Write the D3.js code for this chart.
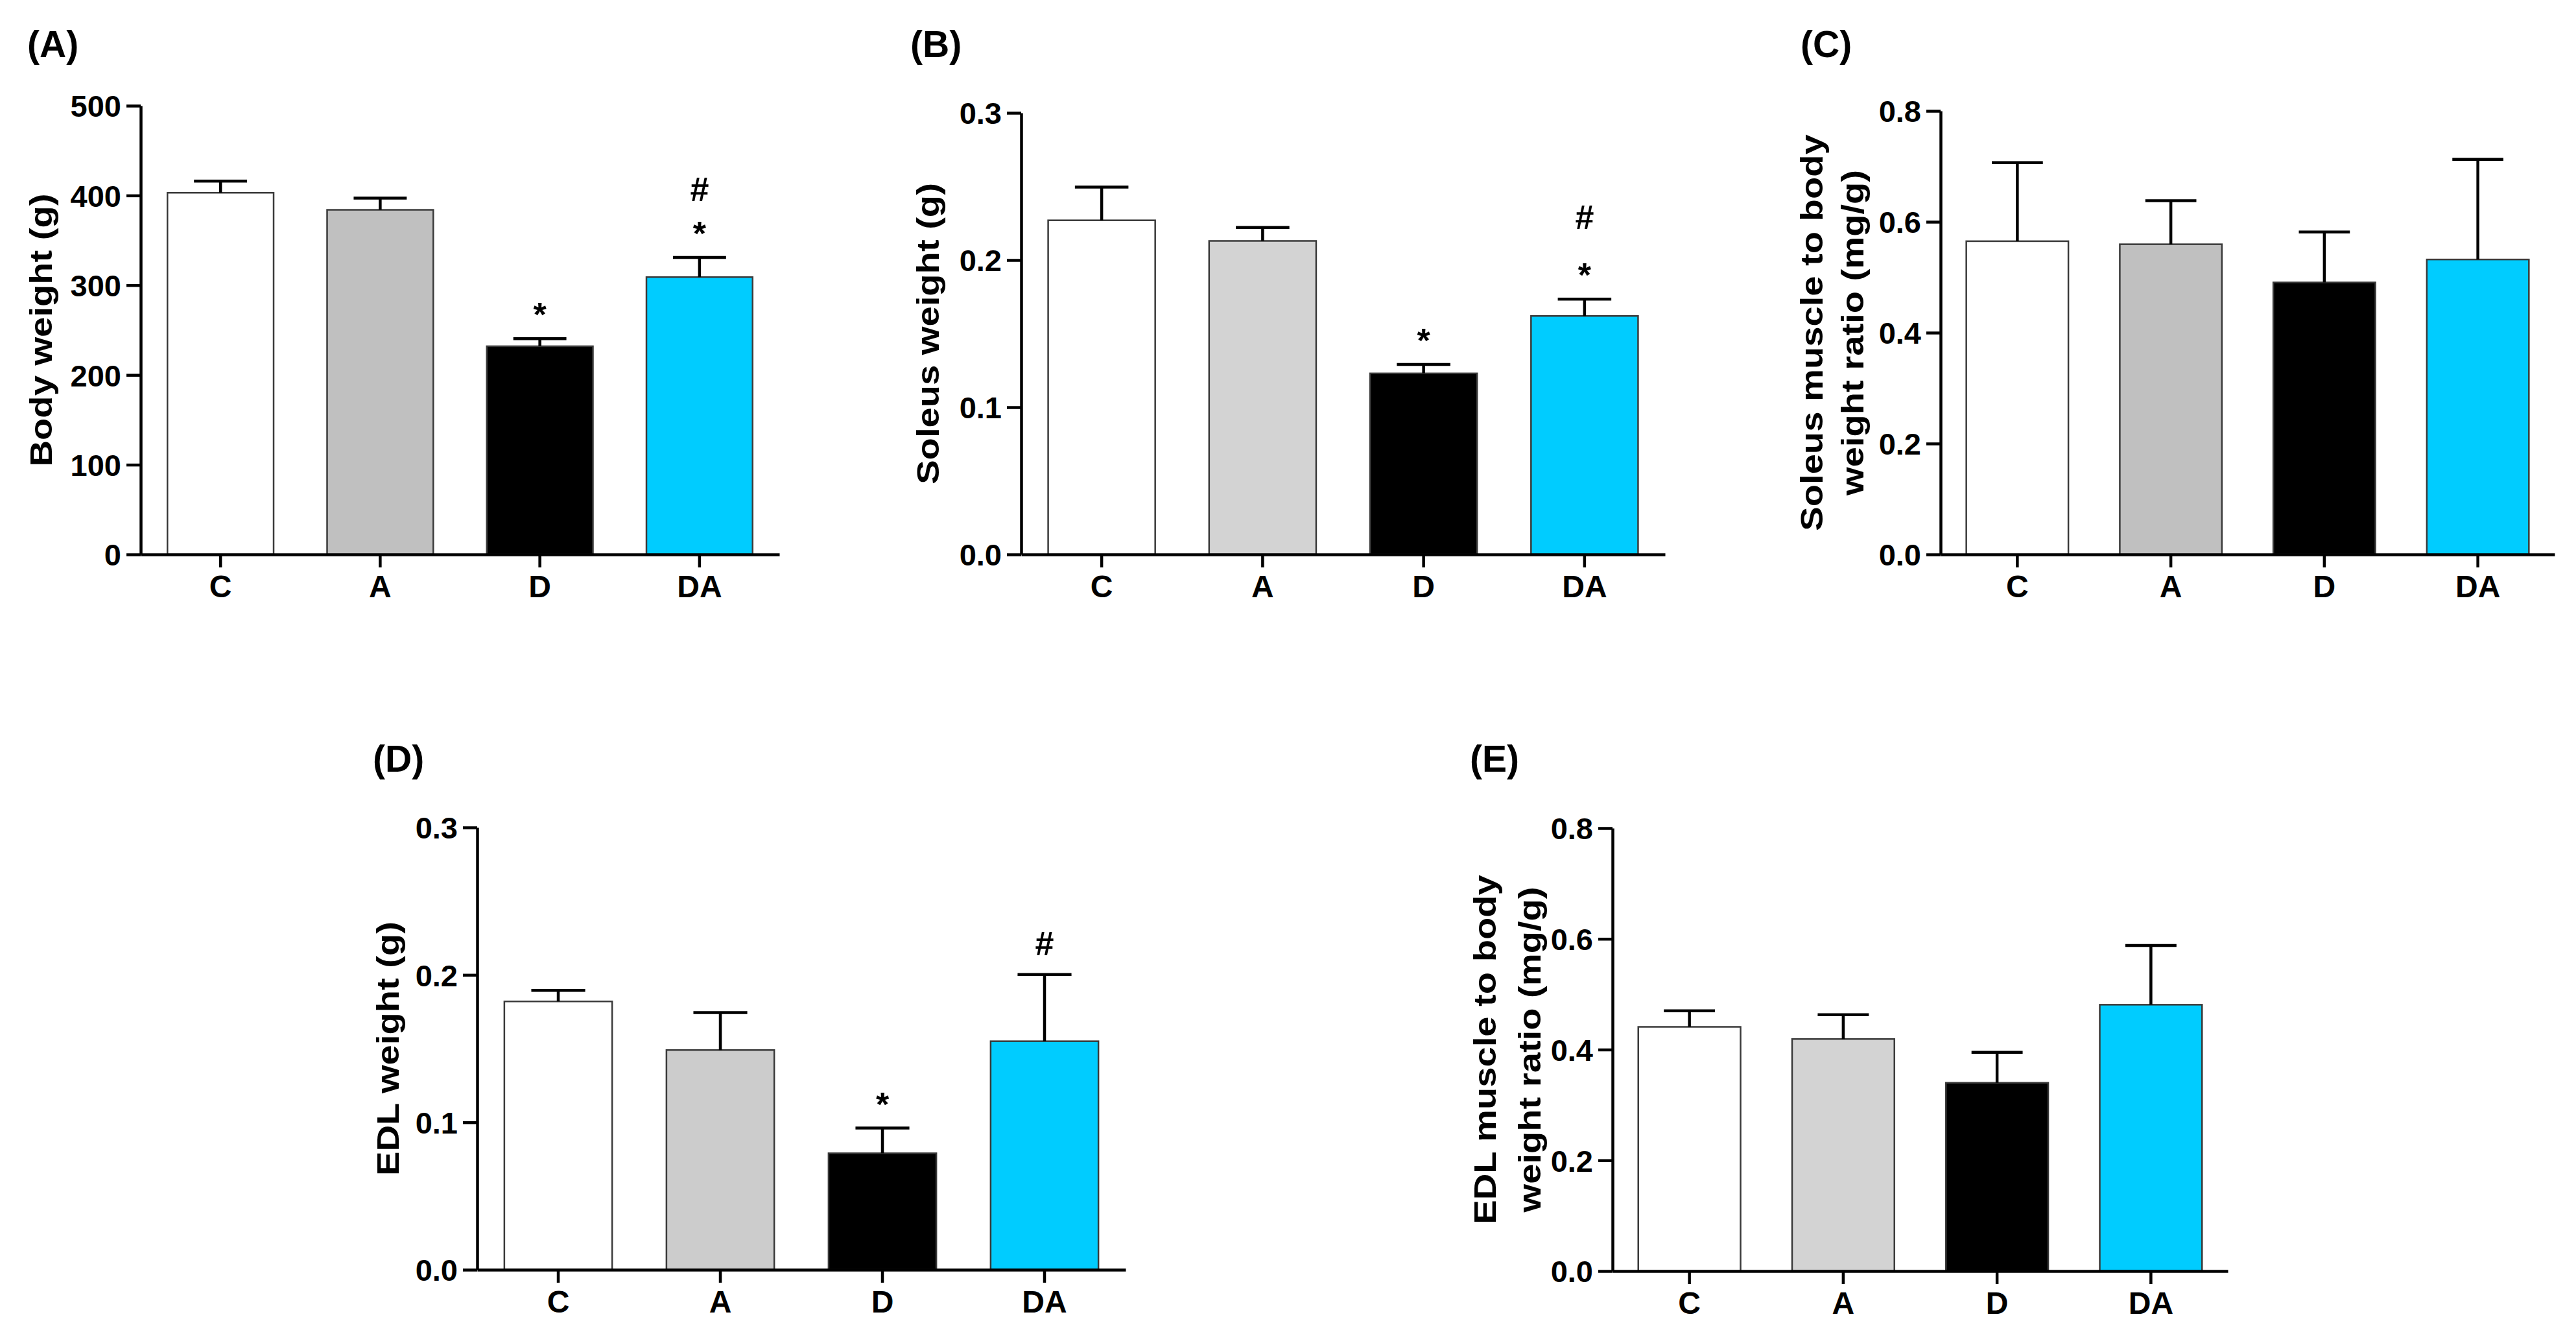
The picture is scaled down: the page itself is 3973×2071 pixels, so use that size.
<!DOCTYPE html>
<html>
<head>
<meta charset="utf-8">
<script src="https://cdn.jsdelivr.net/npm/d3@7"></script>
<style>
  body { margin: 0; background: #fff; }
  text { font-family: "Liberation Sans", Arial, sans-serif; font-weight: bold; fill: #000; }
</style>
</head>
<body>
<svg id="fig"></svg>
<script>
// groups on the x axis
const groups = ["C", "A", "D", "DA"];

// (A) body weight
const bodyWeight = [403, 384, 232, 309];
const bodyWeightErr = [13, 13, 8.5, 22];
const bodyMarks = [[], [], ["*"], ["*", "#"]];

// (B) soleus weight
const soleusWeight = [0.227, 0.213, 0.123, 0.162];
const soleusWeightErr = [0.0226, 0.0091, 0.0061, 0.0115];
const soleusMarks = [[], [], ["*"], ["*", "#"]];

// (C) soleus / body weight ratio
const soleusRatio = [0.565, 0.5595, 0.4906, 0.532];
const soleusRatioErr = [0.1416, 0.0785, 0.091, 0.1805];
const soleusRatioMarks = [[], [], [], []];

// (D) EDL weight
const edlWeight = [0.182, 0.149, 0.079, 0.155];
const edlWeightErr = [0.0075, 0.0254, 0.0171, 0.0453];
const edlMarks = [[], [], ["*"], ["#"]];

// (E) EDL / body weight ratio
const edlRatio = [0.441, 0.419, 0.340, 0.481];
const edlRatioErr = [0.029, 0.044, 0.055, 0.107];
const edlRatioMarks = [[], [], [], []];

// tick values
const ticksBody = [0, 100, 200, 300, 400, 500];
const ticksWeight = [0, 0.1, 0.2, 0.3];
const ticksRatio = [0, 0.2, 0.4, 0.6, 0.8];

const W = 3973, H = 2071;
const svg = d3.select("#fig").attr("width", W).attr("height", H);

const cyan = "#00ccff";

const panels = [
  { label: "(A)", lx: 42, ly: 88, x0: 217, x1: 1202, yTop: 163, yZero: 855,
    domain: [0, 500], ticks: ticksBody, fmt: d3.format("d"),
    values: bodyWeight, errs: bodyWeightErr, marks: bodyMarks, gray: "#c0c0c0",
    title: ["Body weight (g)"], titleX: [80], markGap: 57 },
  { label: "(B)", lx: 1404, ly: 88, x0: 1575, x1: 2568, yTop: 174, yZero: 855,
    domain: [0, 0.3], ticks: ticksWeight, fmt: d3.format(".1f"),
    values: soleusWeight, errs: soleusWeightErr, marks: soleusMarks, gray: "#d3d3d3",
    title: ["Soleus weight (g)"], titleX: [1448], markGap: 78 },
  { label: "(C)", lx: 2777, ly: 88, x0: 2993, x1: 3940, yTop: 171, yZero: 855,
    domain: [0, 0.8], ticks: ticksRatio, fmt: d3.format(".1f"),
    values: soleusRatio, errs: soleusRatioErr, marks: soleusRatioMarks, gray: "#c0c0c0",
    title: ["Soleus muscle to body", "weight ratio (mg/g)"], titleX: [2811, 2874], markGap: 60 },
  { label: "(D)", lx: 575, ly: 1190, x0: 736, x1: 1736, yTop: 1276, yZero: 1958,
    domain: [0, 0.3], ticks: ticksWeight, fmt: d3.format(".1f"),
    values: edlWeight, errs: edlWeightErr, marks: edlMarks, gray: "#cccccc",
    title: ["EDL weight (g)"], titleX: [615], markGap: 60 },
  { label: "(E)", lx: 2267, ly: 1190, x0: 2487, x1: 3436, yTop: 1277, yZero: 1960,
    domain: [0, 0.8], ticks: ticksRatio, fmt: d3.format(".1f"),
    values: edlRatio, errs: edlRatioErr, marks: edlRatioMarks, gray: "#d3d3d3",
    title: ["EDL muscle to body", "weight ratio (mg/g)"], titleX: [2307, 2376], markGap: 60 }
];

// how far above the baseline each symbol's middle sits (em)
const symbolMid = { "*": 0.56, "#": 0.35 };
const markSize = 52;

panels.forEach(p => draw_panel(p));

function draw_panel(p) {
  let g = svg.append("g");

  let x = d3.scaleBand()
    .domain(groups)
    .range([p.x0, p.x1])
    .paddingInner(0.335)
    .paddingOuter(0.1675);
  let y = d3.scaleLinear(p.domain, [p.yZero, p.yTop]);

  let fills = ["#ffffff", p.gray, "#000000", cyan];
  let rows = groups.map((k, i) => ({ key: k, v: p.values[i], e: p.errs[i], marks: p.marks[i], fill: fills[i] }));

  // bars
  g.selectAll(".bar")
    .data(rows)
    .join("rect")
    .attr("class", "bar")
    .attr("x", d => x(d.key))
    .attr("width", x.bandwidth())
    .attr("y", d => y(d.v))
    .attr("height", d => y(0) - y(d.v))
    .attr("fill", d => d.fill)
    .attr("stroke", "#3a3a3a")
    .attr("stroke-width", 2.5);

  // upper error bars
  let capW = x.bandwidth() * 0.5;
  let eb = g.selectAll(".err").data(rows).join("g").attr("class", "err")
    .attr("stroke", "#000").attr("stroke-width", 4.5);
  eb.append("line")
    .attr("x1", d => x(d.key) + x.bandwidth() / 2)
    .attr("x2", d => x(d.key) + x.bandwidth() / 2)
    .attr("y1", d => y(d.v))
    .attr("y2", d => y(d.v + d.e));
  eb.append("line")
    .attr("x1", d => x(d.key) + x.bandwidth() / 2 - capW / 2)
    .attr("x2", d => x(d.key) + x.bandwidth() / 2 + capW / 2)
    .attr("y1", d => y(d.v + d.e))
    .attr("y2", d => y(d.v + d.e));

  // significance symbols, stacked above the error bar
  rows.forEach(d => {
    d.marks.forEach((s, j) => {
      let mid = y(d.v + d.e) - 48 - j * p.markGap;
      g.append("text")
        .attr("x", x(d.key) + x.bandwidth() / 2)
        .attr("y", mid + symbolMid[s] * markSize)
        .attr("text-anchor", "middle")
        .style("font-size", markSize + "px")
        .text(s);
    });
  });

  // y axis
  let ya = g.append("g")
    .attr("transform", `translate(${p.x0},0)`)
    .call(d3.axisLeft(y).tickValues(p.ticks).tickFormat(p.fmt).tickSize(22).tickSizeOuter(0).tickPadding(8));
  // x axis
  let xa = g.append("g")
    .attr("transform", `translate(0,${p.yZero})`)
    .call(d3.axisBottom(x).tickSize(20).tickSizeOuter(0).tickPadding(12));

  [ya, xa].forEach(a => {
    a.select(".domain").attr("stroke", "#000").attr("stroke-width", 4.5);
    a.selectAll(".tick line").attr("stroke", "#000").attr("stroke-width", 4.5);
    a.selectAll(".tick text")
      .attr("fill", "#000")
      .style("font-family", '"Liberation Sans", Arial, sans-serif')
      .style("font-weight", "bold");
  });
  ya.selectAll(".tick text").style("font-size", "47px").attr("dy", "0.36em");
  xa.selectAll(".tick text").style("font-size", "48px");

  // y title (rotated, stretched along its length)
  let cy = (p.yTop + p.yZero) / 2;
  p.title.forEach((t, i) => {
    g.append("text")
      .attr("transform", `translate(${p.titleX[i]},${cy}) rotate(-90) scale(1.17,1)`)
      .attr("text-anchor", "middle")
      .style("font-size", "48px")
      .text(t);
  });

  // panel letter
  g.append("text")
    .attr("x", p.lx)
    .attr("y", p.ly)
    .style("font-size", "57px")
    .text(p.label);
}
</script>
</body>
</html>
